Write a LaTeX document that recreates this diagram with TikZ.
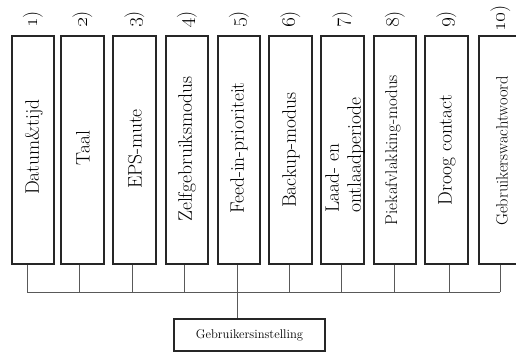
\documentclass[tikz,border=0pt]{standalone}
\begin{document}
\begin{tikzpicture}[x=1pt,y=-1pt,
  setbox/.style={draw=black!85, line width=1.8pt, rectangle, minimum width=42.5pt, minimum height=228pt, inner sep=0pt},
  boxtext/.style={rotate=90, font=\fontsize{19.5}{22}\selectfont, align=left},
  smalltext/.style={rotate=90, font=\fontsize{17}{20}\selectfont},
  tinytext/.style={rotate=90, font=\fontsize{16.5}{20}\selectfont},
  numlabel/.style={rotate=90, anchor=west, inner sep=0pt, font=\fontsize{20}{22}\selectfont},
  wire/.style={draw=black!65, line width=1pt},
  mainbox/.style={draw=black!85, line width=1.2pt, rectangle, minimum width=151pt, minimum height=32pt, inner sep=0pt, font=\fontsize{12.6}{14}\selectfont}]
\useasboundingbox (0,0) rectangle (516,356);

\node[setbox] (b1) at (33,150) {};
\node[setbox] (b2) at (82.5,150) {};
\node[setbox] (b3) at (134.5,150) {};
\node[setbox] (b4) at (187,150) {};
\node[setbox] (b5) at (239,150) {};
\node[setbox] (b6) at (290.5,150) {};
\node[setbox] (b7) at (342.5,150) {};
\node[setbox] (b8) at (395,150) {};
\node[setbox] (b9) at (446.5,150) {};
\node[setbox] (b10) at (500.5,150) {};

\node[boxtext] (t1) at (34,147) {Datum\&tijd};
\node[boxtext] (t2) at (83,148) {Taal};
\node[boxtext] (t3) at (135,149) {EPS-mute};
\node[boxtext] (t4) at (187,149) {Zelfgebruiksmodus};
\node[boxtext] (t5) at (239,148) {Feed-in-prioriteit};
\node[boxtext] (t6) at (291,150) {Backup-modus};
\node[boxtext] (t7) at (345,155) {Laad- en\\ontlaadperiode};
\node[smalltext] (t8) at (393,150) {Piekafvlakking-modus};
\node[boxtext] (t9) at (447,150) {Droog contact};
\node[tinytext] (t10) at (502,151) {Gebruikerswachtwoord};

\node[numlabel] (n1) at (b1.center |- 0,28) {\oldstylenums{1})};
\node[numlabel] (n2) at (b2.center |- 0,28) {\oldstylenums{2})};
\node[numlabel] (n3) at (b3.center |- 0,28) {\oldstylenums{3})};
\node[numlabel] (n4) at (b4.center |- 0,28) {\oldstylenums{4})};
\node[numlabel] (n5) at (b5.center |- 0,28) {\oldstylenums{5})};
\node[numlabel] (n6) at (b6.center |- 0,28) {\oldstylenums{6})};
\node[numlabel] (n7) at (b7.center |- 0,28) {\oldstylenums{7})};
\node[numlabel] (n8) at (b8.center |- 0,28) {\oldstylenums{8})};
\node[numlabel] (n9) at (b9.center |- 0,28) {\oldstylenums{9})};
\node[numlabel] (n10) at (b10.center |- 0,32) {\oldstylenums{10})};

\node[mainbox] (g) at (249.5,335) {Gebruikersinstelling};

\coordinate (d1) at (27,292);
\coordinate (d2) at (79,292);
\coordinate (d3) at (132,292);
\coordinate (d4) at (184,292);
\coordinate (d5) at (237,292);
\coordinate (d6) at (289,292);
\coordinate (d7) at (341,292);
\coordinate (d8) at (394,292);
\coordinate (d9) at (449,292);
\coordinate (d10) at (500,292);

\foreach \i in {1,...,10} {
  \draw[wire] (b\i.south -| d\i) -- (d\i);
}
\draw[wire] (d1) -- (d10);
\draw[wire] (d5) -- (d5 |- g.north);
\end{tikzpicture}
\end{document}
